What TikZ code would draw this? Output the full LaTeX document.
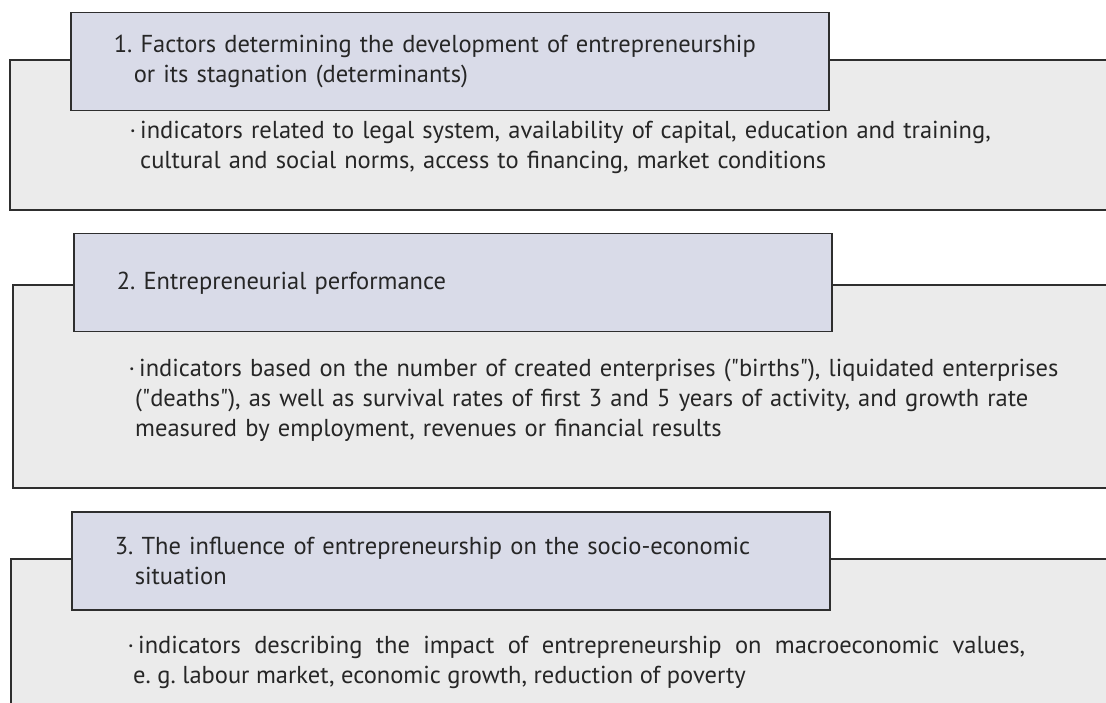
\documentclass[tikz,border=0pt]{standalone}
\usepackage{fontspec}
\setmainfont{PT Sans}[Ligatures=TeXOff]
\usepackage{xcolor}
\definecolor{TitleBlue}{HTML}{D9DBE8}
\definecolor{PanelGrey}{HTML}{EBEBEB}
\definecolor{EdgeGrey}{HTML}{2E2E2E}
\definecolor{InkGrey}{HTML}{262626}
\usetikzlibrary{positioning}
\newcommand{\dotitem}{\llap{\textperiodcentered\hspace{4pt}}}
\frenchspacing

\begin{document}
\begin{tikzpicture}[
    x=1pt, y=-1pt,
    panel/.style={draw=EdgeGrey, fill=PanelGrey, line width=1.5pt},
    heading/.style={
      rectangle, draw=EdgeGrey, fill=TitleBlue, line width=1.5pt,
      anchor=north west, minimum width=758pt, minimum height=98pt,
      text width=672pt, inner xsep=43pt, align=left,
      font=\fontsize{24.5}{30}\selectfont, text=InkGrey
    },
    bullets/.style={
      anchor=base west, text width=960pt, align=left, inner sep=0pt,
      font=\fontsize{24.5}{30}\selectfont, text=InkGrey
    }
  ]
    \useasboundingbox (0,0) rectangle (1106,703);

    % determinants
    \draw[panel] (1106,60) -| (10,210) -- (1106,210);
    \node[heading] (t1) at (70,12) {1. Factors determining the development of entrepreneurship\\\hspace*{20pt}or its stagnation (determinants)};
    \node[bullets] (b1) at (140,139) {\dotitem indicators related to legal system, availability of capital, education and training,\\cultural and social norms, access to financing, market conditions};

    % performance
    \draw[panel] (1106,285) -| (13,488) -- (1106,488);
    \node[heading] (t2) at (73,233) {2. Entrepreneurial performance};
    \node[bullets] (b2) at (139,376) {\dotitem indicators based on the number of created enterprises ("births"), liquidated enterprises\\\hspace*{-4pt}("deaths"), as well as survival rates of first 3 and 5 years of activity, and growth rate\\\hspace*{-4pt}measured by employment, revenues or financial results};

    % influence
    \fill[PanelGrey] (11,559) rectangle (1106,703);
    \draw[panel, fill=none] (1106,559) -| (11,703);
    \node[heading] (t3) at (71,511) {3. The influence of entrepreneurship on the socio-economic\\\hspace*{20pt}situation};
    \node[bullets, text width=887pt, align=justify] (b3) at (138,653) {\dotitem indicators describing the impact of entrepreneurship on macroeconomic values,\linebreak\hspace*{-5pt}e. g. labour market, economic growth, reduction of poverty};
  \end{tikzpicture}
\end{document}
